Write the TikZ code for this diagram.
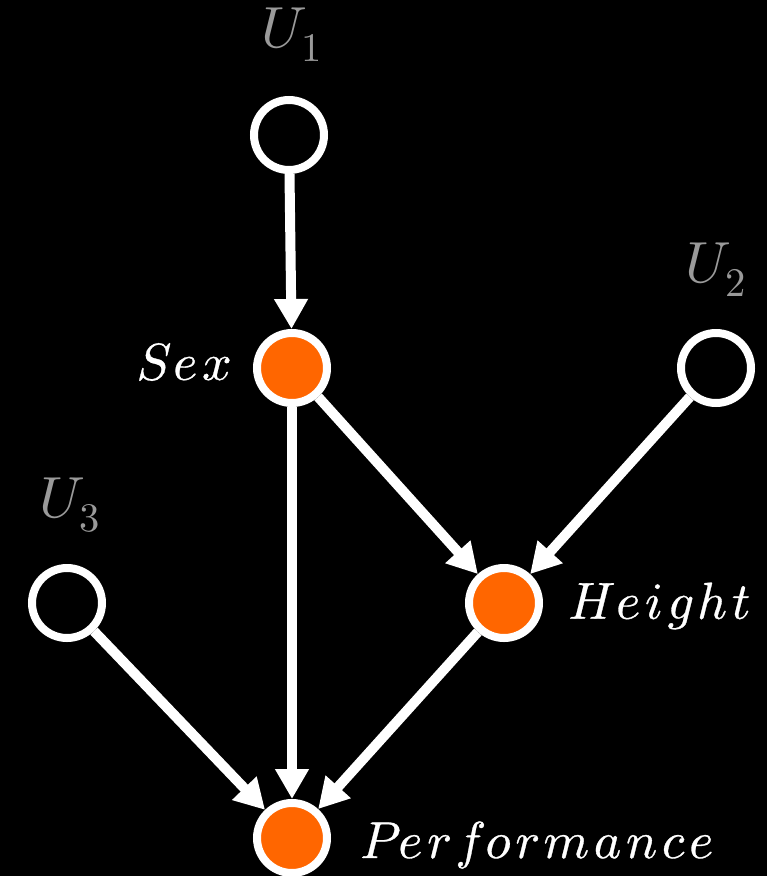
\documentclass[tikz,border=0pt]{standalone}
\usepackage{unicode-math}
\setmathfont{Latin Modern Math}
\newfontfamily\varfont{Latin Modern Math}[FakeBold=0.6, LetterSpace=9]
\usetikzlibrary{arrows.meta}
\definecolor{nodefill}{HTML}{FF6600}
\definecolor{labelgray}{HTML}{9A9A9A}
\tikzset{
  latent/.style={circle, draw=white, line width=8pt, minimum size=70pt, inner sep=0pt, fill=black},
  observed/.style={latent, fill=nodefill},
  edge/.style={draw=white, line width=10pt, -{Triangle[width=32pt,length=30pt]}},
  varname/.style={text=white, font=\varfont\fontsize{52}{60}\selectfont, inner sep=0pt},
  noisename/.style={text=labelgray, font=\fontsize{58}{68}\selectfont, inner sep=0pt}
}
\begin{document}
\begin{tikzpicture}[x=1pt,y=-1pt]
  \fill[black] (0,0) rectangle (767,876);
  \useasboundingbox (0,0) rectangle (767,876);

  % exogenous noise terms
  \node[latent] (u1) at (289,135) {};
  \node[latent] (u2) at (716,368) {};
  \node[latent] (u3) at (67,603) {};

  % observed variables
  \node[observed] (sex) at (292,368) {};
  \node[observed] (height) at (504,603) {};
  \node[observed] (perf) at (292,838) {};

  % labels
  \node[noisename] (lu1) at (292,35) {$U_1$};
  \node[noisename] (lu2) at (716,270) {$U_2$};
  \node[noisename] (lu3) at (70,505) {$U_3$};
  \node[varname, anchor=east] (lsex) at (232,362) {𝑆𝑒𝑥};
  \node[varname, anchor=west] (lheight) at (568,606) {𝐻𝑒𝑖𝑔ℎ𝑡};
  \node[varname, anchor=west] (lperf) at (360,845) {𝑃𝑒𝑟𝑓𝑜𝑟𝑚𝑎𝑛𝑐𝑒};

  % causal edges
  \draw[edge] (u1) -- (sex);
  \draw[edge] (sex) -- (height);
  \draw[edge] (u2) -- (height);
  \draw[edge] (sex) -- (perf);
  \draw[edge] (height) -- (perf);
  \draw[edge] (u3) -- (perf);
\end{tikzpicture}
\end{document}
